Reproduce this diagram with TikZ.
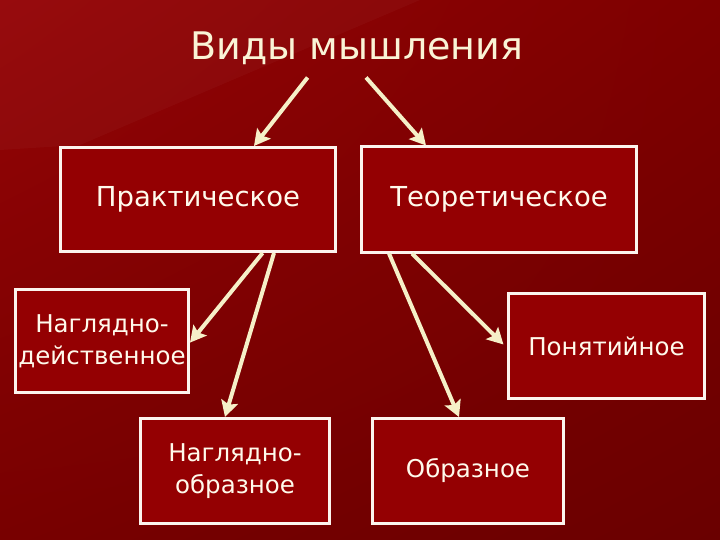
\documentclass[tikz,border=0pt]{standalone}
\usepackage{fontspec}
\setmainfont{DejaVu Sans}
\usetikzlibrary{arrows.meta,calc,shadings}
\definecolor{bgA}{RGB}{148,4,6}
\definecolor{bgB}{RGB}{126,0,0}
\definecolor{bgC}{RGB}{120,0,0}
\definecolor{bgD}{RGB}{106,0,0}
\definecolor{boxfill}{RGB}{148,0,2}
\definecolor{boxline}{RGB}{252,244,238}
\definecolor{arrcol}{RGB}{246,240,200}
\definecolor{txtcol}{RGB}{255,250,236}
\definecolor{titlecol}{RGB}{250,244,214}
\tikzset{
  kind/.style={draw=boxline, line width=3pt, fill=boxfill, inner sep=0pt,
    text=txtcol, align=center, font=\fontsize{24.5}{32}\selectfont},
  big/.style={font=\fontsize{27.5}{32}\selectfont},
  arr/.style={draw=arrcol, line width=4pt,
    -{Stealth[length=16pt,width=17pt,inset=3pt]}}
}
\begin{document}
\begin{tikzpicture}[x=1pt,y=-1pt]
\useasboundingbox (0,0) rectangle (720,540);
\shade[upper left=bgA, upper right=bgB, lower left=bgC, lower right=bgD]
  (0,0) rectangle (720,540);
\fill[white, opacity=0.03] (0,0) -- (420,0) -- (80,145) -- (0,150) -- cycle;

\node[text=titlecol, font=\fontsize{38}{46}\selectfont] (title) at (357,48) {Виды мышления};

\node[kind, big, minimum width=275pt, minimum height=104pt] (prak) at (198,199.5) {Практическое};
\node[kind, big, minimum width=275pt, minimum height=105pt] (teor) at (499,199.5) {Теоретическое};
\node[kind, minimum width=173pt, minimum height=103pt] (nd) at (102,341) {Наглядно-\\действенное};
\node[kind, minimum width=196pt, minimum height=105pt] (pon) at (606.5,346) {Понятийное};
\node[kind, minimum width=189pt, minimum height=105pt] (no) at (235,471) {Наглядно-\\образное};
\node[kind, minimum width=191pt, minimum height=105pt] (obr) at (468,471) {Образное};

\coordinate (s1) at (307.6,77.5);
\coordinate (s2) at (366,77.5);
\coordinate (x1) at (254,0);
\coordinate (x2) at (426,0);
\coordinate (x3s) at (262.6,0);
\coordinate (y3e) at (0,342.6);
\coordinate (x4s) at (274,0);
\coordinate (x4e) at (225,0);
\coordinate (x5s) at (389,0);
\coordinate (x5e) at (459,0);
\coordinate (x6s) at (412,0);
\coordinate (y6e) at (0,348);

\draw[arr] (s1) -- (prak.north -| x1);
\draw[arr] (s2) -- (teor.north -| x2);
\draw[arr] (prak.south -| x3s) -- (nd.east |- y3e);
\draw[arr] (prak.south -| x4s) -- (no.north -| x4e);
\draw[arr] (teor.south -| x5s) -- (obr.north -| x5e);
\draw[arr, shorten >=5pt] (teor.south -| x6s) -- (pon.west |- y6e);
\end{tikzpicture}
\end{document}
